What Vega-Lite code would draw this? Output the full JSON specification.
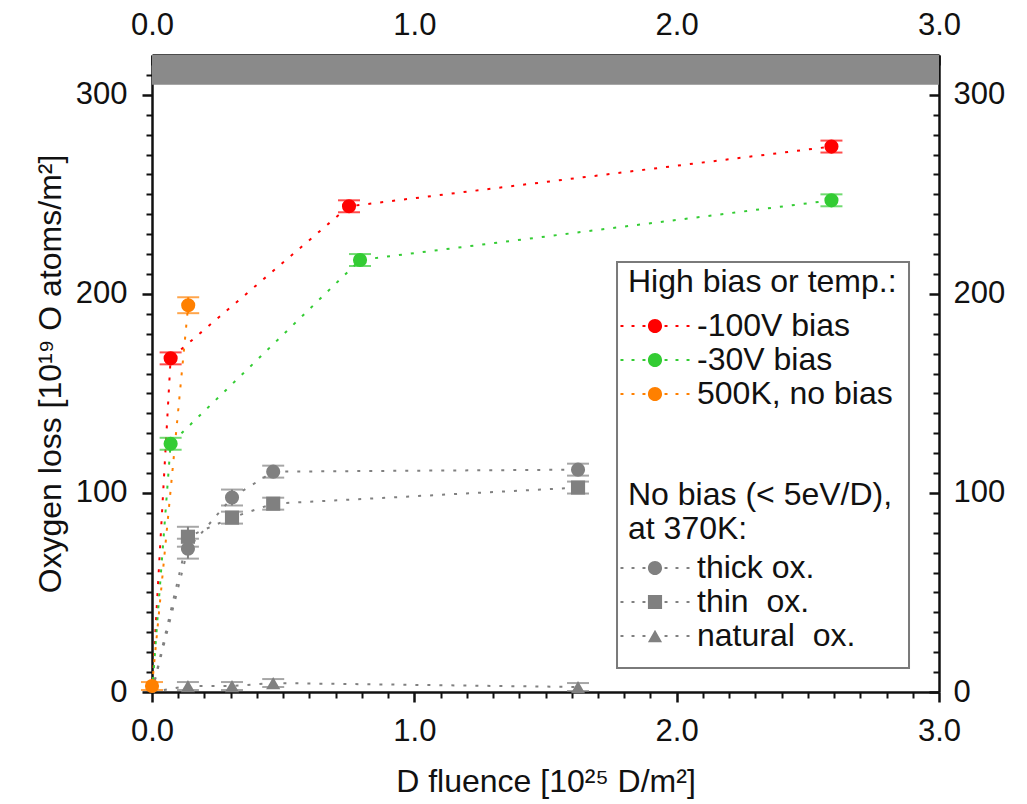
{
  "$schema": "https://vega.github.io/schema/vega-lite/v6.json",
  "width": 787,
  "height": 637,
  "autosize": "none",
  "padding": {"left": 152, "top": 55, "right": 88, "bottom": 112},
  "background": "white",
  "config": {
    "font": "Liberation Sans",
    "view": {"stroke": null},
    "axis": {"grid": false, "labelFont": "Liberation Sans", "titleFont": "Liberation Sans", "labelColor": "#111", "titleColor": "#111", "tickColor": "#111", "domainColor": "#111", "labelFontSize": 31, "titleFontSize": 32, "titleFontWeight": "normal", "labelFlush": false, "labelOverlap": false, "zindex": 2},
    "legend": {"titleFont": "Liberation Sans", "titleFontSize": 32, "titleFontWeight": "normal", "titleColor": "#111", "titleLimit": 500, "labelFont": "Liberation Sans", "labelFontSize": 32, "labelColor": "#111", "labelLimit": 500, "symbolSize": 200, "symbolStrokeWidth": 0, "symbolOffset": 11, "labelOffset": 26, "rowPadding": 2, "padding": 0}
  },
  "datasets": {
    "loss": [
      {"series": "thick ox.", "x": 0, "y": 0, "err": 0},
      {"series": "thick ox.", "x": 0.137, "y": 72, "err": 5},
      {"series": "thick ox.", "x": 0.305, "y": 97.7, "err": 4},
      {"series": "thick ox.", "x": 0.462, "y": 110.7, "err": 3},
      {"series": "thick ox.", "x": 1.624, "y": 111.7, "err": 3},
      {"series": "thin ox.", "x": 0, "y": 0, "err": 0},
      {"series": "thin ox.", "x": 0.137, "y": 78, "err": 5},
      {"series": "thin ox.", "x": 0.305, "y": 87.6, "err": 3},
      {"series": "thin ox.", "x": 0.462, "y": 94.6, "err": 3},
      {"series": "thin ox.", "x": 1.624, "y": 102.7, "err": 3},
      {"series": "natural ox.", "x": 0, "y": 0, "err": 0},
      {"series": "natural ox.", "x": 0.137, "y": 3, "err": 2},
      {"series": "natural ox.", "x": 0.305, "y": 3, "err": 2},
      {"series": "natural ox.", "x": 0.462, "y": 4.5, "err": 2},
      {"series": "natural ox.", "x": 1.624, "y": 2.5, "err": 2},
      {"series": "-100V bias", "x": 0, "y": 0, "err": 0},
      {"series": "-100V bias", "x": 0.071, "y": 167.6, "err": 3},
      {"series": "-100V bias", "x": 0.751, "y": 244, "err": 3},
      {"series": "-100V bias", "x": 2.59, "y": 274, "err": 3},
      {"series": "-30V bias", "x": 0, "y": 0, "err": 0},
      {"series": "-30V bias", "x": 0.071, "y": 124.7, "err": 3},
      {"series": "-30V bias", "x": 0.793, "y": 217, "err": 3},
      {"series": "-30V bias", "x": 2.59, "y": 247, "err": 3},
      {"series": "500K, no bias", "x": 0, "y": 3, "err": 2},
      {"series": "500K, no bias", "x": 0.138, "y": 194.3, "err": 4}
    ]
  },
  "data": {"name": "loss"},
  "resolve": {"axis": {"x": "independent", "y": "independent"}, "legend": {"color": "independent", "shape": "independent"}},
  "layer": [
    {
      "data": {"values": [{"lo": 305, "hi": 320}]},
      "mark": {"type": "rect", "color": "#8a8a8a"},
      "encoding": {
        "x": {"datum": 0, "type": "quantitative", "scale": {"domain": [0, 3], "nice": false, "zero": false}, "axis": null},
        "x2": {"datum": 3},
        "y": {"field": "lo", "type": "quantitative", "scale": {"domain": [0, 320], "nice": false, "zero": false}, "axis": null},
        "y2": {"field": "hi"}
      }
    },
    {
      "mark": {"type": "line", "strokeDash": [3, 9], "strokeWidth": 2},
      "encoding": {
        "x": {"field": "x", "type": "quantitative",
          "axis": {"orient": "bottom", "values": [0, 1, 2, 3], "format": ".1f", "tickSize": 10, "tickWidth": 2.5, "domainWidth": 2.5, "labelPadding": 14, "title": "D fluence [10²⁵ D/m²]", "titlePadding": 20}},
        "y": {"field": "y", "type": "quantitative",
          "axis": {"orient": "left", "values": [0, 100, 200, 300], "format": "d", "tickSize": 10, "tickWidth": 2.5, "domainWidth": 2.5, "labelPadding": 15, "title": "Oxygen loss [10¹⁹ O atoms/m²]", "titlePadding": 8}},
        "color": {
          "field": "series", "type": "nominal",
          "scale": {
            "domain": ["-100V bias", "-30V bias", "500K, no bias", "thick ox.", "thin ox.", "natural ox."],
            "range": ["#ff0000", "#33cc33", "#ff8000", "#808080", "#808080", "#808080"]
          },
          "legend": null
        }
      }
    },
    {
      "transform": [{"filter": "datum.x > 0 || datum.y > 0"}],
      "mark": {"type": "errorbar", "ticks": {"size": 22, "thickness": 2}, "thickness": 2},
      "encoding": {
        "x": {"field": "x", "type": "quantitative", "axis": null},
        "y": {"field": "y", "type": "quantitative", "axis": null},
        "yError": {"field": "err"},
        "color": {"field": "series", "type": "nominal", "legend": null}
      }
    },
    {
      "transform": [{"filter": "datum.series == 'thin ox.' && datum.x > 0"}],
      "mark": {"type": "point", "shape": "square", "filled": true, "opacity": 1, "size": 200, "color": "#808080"},
      "encoding": {
        "x": {"field": "x", "type": "quantitative", "axis": null},
        "y": {"field": "y", "type": "quantitative", "axis": null}
      }
    },
    {
      "transform": [{"filter": "datum.series == 'natural ox.' && datum.x > 0"}],
      "mark": {"type": "point", "shape": "triangle-up", "filled": true, "opacity": 1, "size": 200, "color": "#808080"},
      "encoding": {
        "x": {"field": "x", "type": "quantitative", "axis": null},
        "y": {"field": "y", "type": "quantitative", "axis": null}
      }
    },
    {
      "data": {"values": [{}]},
      "mark": {"type": "rect", "fill": "white", "stroke": "#7a7a7a", "strokeWidth": 2},
      "encoding": {
        "x": {"datum": 1.7726, "type": "quantitative", "axis": null},
        "x2": {"datum": 2.8857},
        "y": {"datum": 12.06, "type": "quantitative", "axis": null},
        "y2": {"datum": 216}
      }
    },
    {
      "transform": [{"filter": "(datum.x > 0 || datum.y > 0) && datum.series != 'thin ox.' && datum.series != 'natural ox.'"}],
      "mark": {"type": "point", "shape": "circle", "filled": true, "opacity": 1, "size": 200},
      "encoding": {
        "x": {"field": "x", "type": "quantitative",
          "axis": {"orient": "top", "values": [0, 1, 2, 3], "format": ".1f", "tickSize": -10, "tickWidth": 2.5, "domainWidth": 2.5, "labelPadding": 24, "title": null}},
        "y": {"field": "y", "type": "quantitative",
          "axis": {"orient": "right", "values": [0, 100, 200, 300], "format": "d", "tickSize": -10, "tickWidth": 2.5, "domainWidth": 2.5, "labelPadding": 24, "title": null}},
        "color": {
          "field": "series", "type": "nominal",
          "legend": {
            "title": "High bias or temp.:",
            "values": ["-100V bias", "-30V bias", "500K, no bias"],
            "orient": "none",
            "direction": "vertical",
            "legendX": 476,
            "legendY": 212,
            "titlePadding": 11,
            "symbolType": "M-4.88,-0.125h0.42v0.25h-0.42zM-3.32,-0.125h0.42v0.25h-0.42zM-1.77,-0.125h0.42v0.25h-0.42zM1.35,-0.125h0.42v0.25h-0.42zM2.9,-0.125h0.42v0.25h-0.42zM4.46,-0.125h0.42v0.25h-0.42zM1,0A1,1,0,1,1,-1,0A1,1,0,1,1,1,0Z",
            "labelExpr": "datum.label == '-100V bias' ? '\u2002-100V bias' : datum.label == '-30V bias' ? '\u2002\u2002-30V bias' : datum.label"
          }
        }
      }
    },
    {
      "transform": [{"filter": "(datum.series == 'thick ox.' || datum.series == 'thin ox.' || datum.series == 'natural ox.') && datum.x > 0"}],
      "mark": {"type": "point", "filled": true, "opacity": 0, "size": 200, "color": "#808080"},
      "encoding": {
        "x": {"field": "x", "type": "quantitative", "axis": null},
        "y": {"field": "y", "type": "quantitative", "axis": null},
        "shape": {
          "field": "series", "type": "nominal",
          "scale": {
            "domain": ["thick ox.", "thin ox.", "natural ox."],
            "range": [
              "M-4.88,-0.125h0.42v0.25h-0.42zM-3.32,-0.125h0.42v0.25h-0.42zM-1.77,-0.125h0.42v0.25h-0.42zM1.35,-0.125h0.42v0.25h-0.42zM2.9,-0.125h0.42v0.25h-0.42zM4.46,-0.125h0.42v0.25h-0.42zM1,0A1,1,0,1,1,-1,0A1,1,0,1,1,1,0Z",
              "M-4.88,-0.125h0.42v0.25h-0.42zM-3.32,-0.125h0.42v0.25h-0.42zM-1.77,-0.125h0.42v0.25h-0.42zM1.35,-0.125h0.42v0.25h-0.42zM2.9,-0.125h0.42v0.25h-0.42zM4.46,-0.125h0.42v0.25h-0.42zM-1,-1h2v2h-2Z",
              "M-4.88,-0.125h0.42v0.25h-0.42zM-3.32,-0.125h0.42v0.25h-0.42zM-1.77,-0.125h0.42v0.25h-0.42zM1.35,-0.125h0.42v0.25h-0.42zM2.9,-0.125h0.42v0.25h-0.42zM4.46,-0.125h0.42v0.25h-0.42zM-1,0.87L0,-0.87L1,0.87Z"
            ]
          },
          "legend": {
            "title": ["No bias (< 5eV/D),", "at 370K:"],
            "orient": "none",
            "direction": "vertical",
            "legendX": 476,
            "legendY": 425,
            "titleLineHeight": 34,
            "titlePadding": 6,
            "symbolFillColor": "#808080",
            "symbolOpacity": 1,
            "labelExpr": "datum.value == 'thin ox.' ? 'thin\u00a0 ox.' : datum.value == 'natural ox.' ? 'natural\u00a0 ox.' : datum.label"
          }
        }
      }
    },
    {
      "mark": {"type": "point", "opacity": 0},
      "encoding": {
        "x": {"field": "x", "type": "quantitative",
          "axis": {"orient": "bottom", "values": [0.1, 0.2, 0.3, 0.4, 0.5, 0.6, 0.7, 0.8, 0.9, 1.1, 1.2, 1.3, 1.4, 1.5, 1.6, 1.7, 1.8, 1.9, 2.1, 2.2, 2.3, 2.4, 2.5, 2.6, 2.7, 2.8, 2.9], "tickSize": 6, "tickWidth": 2, "labels": false, "domain": false, "title": null}},
        "y": {"field": "y", "type": "quantitative",
          "axis": {"orient": "left", "values": [10, 20, 30, 40, 50, 60, 70, 80, 90, 110, 120, 130, 140, 150, 160, 170, 180, 190, 210, 220, 230, 240, 250, 260, 270, 280, 290, 310], "tickSize": 6, "tickWidth": 2, "labels": false, "domain": false, "title": null}}
      }
    },
    {
      "mark": {"type": "point", "opacity": 0},
      "encoding": {
        "x": {"field": "x", "type": "quantitative",
          "axis": {"orient": "top", "values": [0.1, 0.2, 0.3, 0.4, 0.5, 0.6, 0.7, 0.8, 0.9, 1.1, 1.2, 1.3, 1.4, 1.5, 1.6, 1.7, 1.8, 1.9, 2.1, 2.2, 2.3, 2.4, 2.5, 2.6, 2.7, 2.8, 2.9], "tickSize": -6, "tickWidth": 2, "labels": false, "domain": false, "title": null}},
        "y": {"field": "y", "type": "quantitative",
          "axis": {"orient": "right", "values": [10, 20, 30, 40, 50, 60, 70, 80, 90, 110, 120, 130, 140, 150, 160, 170, 180, 190, 210, 220, 230, 240, 250, 260, 270, 280, 290, 310], "tickSize": -6, "tickWidth": 2, "labels": false, "domain": false, "title": null}}
      }
    }
  ]
}
